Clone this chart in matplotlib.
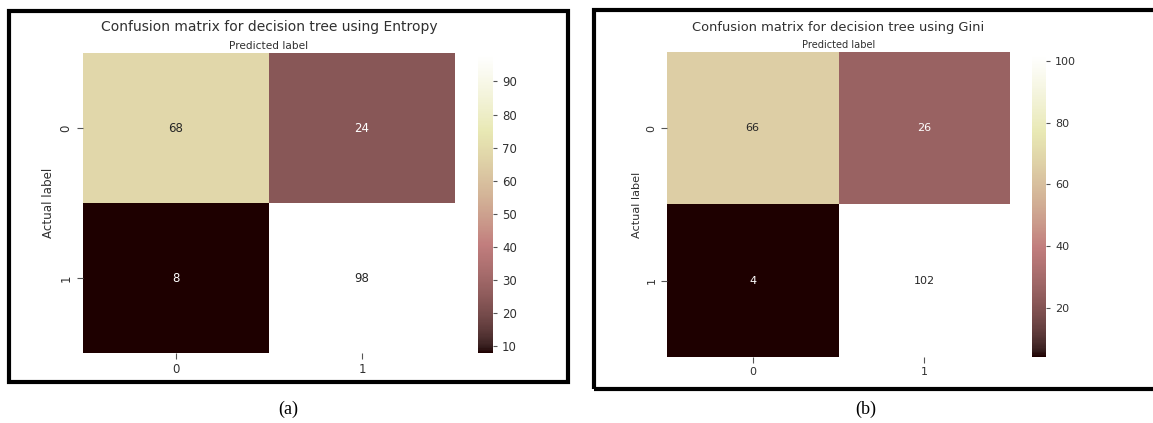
import matplotlib
matplotlib.use('Agg')
import matplotlib.pyplot as plt
import seaborn as sns
import numpy as np
from matplotlib.patches import Rectangle

labels = ['0', '1']
cm_entropy = [[68, 24], [8, 98]]
cm_gini = [[66, 26], [4, 102]]
cbar_ticks_entropy = [10, 20, 30, 40, 50, 60, 70, 80, 90]
cbar_ticks_gini = [20, 40, 60, 80, 100]

W, H = 1153, 423
fig = plt.figure(figsize=(W / 100, H / 100), dpi=100)
plt.rcParams['font.family'] = 'DejaVu Sans'
txt = '#303030'


def box(x0, y0, x1, y1):
    # pixel box (from top-left) -> figure fraction
    return [x0 / W, 1 - y1 / H, (x1 - x0) / W, (y1 - y0) / H]


def panel(cm, title, hm_px, cb_px, cticks, scale):
    ax = fig.add_axes(box(*hm_px))
    cax = fig.add_axes(box(*cb_px))
    data = np.array(cm)
    sns.heatmap(data, annot=True, fmt='d', cmap='pink', ax=ax, cbar_ax=cax,
                xticklabels=labels, yticklabels=labels,
                annot_kws={'fontsize': 8.5 * scale})
    ax.set_title(title, fontsize=10 * scale, color=txt, pad=16 * scale)
    ax.xaxis.set_label_position('top')
    ax.set_xlabel('Predicted label', fontsize=7.6 * scale, color=txt, labelpad=3)
    ax.set_ylabel('Actual label', fontsize=8.6 * scale, color=txt, labelpad=3)
    ax.tick_params(colors='#555555', labelcolor=txt, labelsize=8.5 * scale, length=4)
    plt.setp(ax.get_yticklabels(), rotation=90, va='center')
    cax.set_yticks(cticks)
    cax.tick_params(colors='#555555', labelcolor=txt, labelsize=8.5 * scale, length=3)
    for s in cax.spines.values():
        s.set_visible(False)


panel(cm_entropy, 'Confusion matrix for decision tree using Entropy',
      (83, 53, 455, 353), (478, 55, 493, 353), cbar_ticks_entropy, 1.0)
panel(cm_gini, 'Confusion matrix for decision tree using Gini',
      (667, 52, 1010, 357), (1032, 55, 1046, 357), cbar_ticks_gini, 0.94)

# black frames round each panel
for x0, y0, x1, y1 in [(9, 11, 568, 382), (594, 10, 1160, 389)]:
    fig.add_artist(Rectangle((x0 / W, 1 - y1 / H), (x1 - x0) / W, (y1 - y0) / H,
                             transform=fig.transFigure, fill=False,
                             edgecolor='black', linewidth=3))

fig.text(288 / W, 1 - 409 / H, '(a)', ha='center', va='center',
         fontsize=13, family='Liberation Serif')
fig.text(866 / W, 1 - 409 / H, '(b)', ha='center', va='center',
         fontsize=13, family='Liberation Serif')

fig.savefig('out.png', dpi=100)
